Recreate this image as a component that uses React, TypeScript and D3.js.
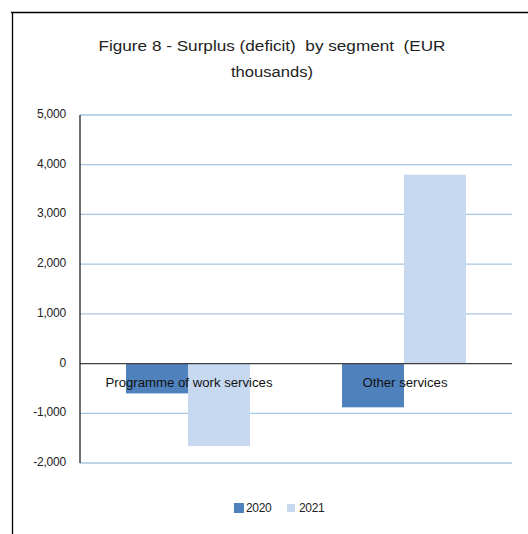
import React from "react";
import * as d3 from "d3";

const categories = ["Programme of work services", "Other services"];
const seriesNames = ["2020", "2021"];
const values2020 = [-600, -880];
const values2021 = [-1660, 3800];
const yTicks = [-2000, -1000, 0, 1000, 2000, 3000, 4000, 5000];
const colors = ["#4f81bd", "#c6d9f1"];
const titleLines = ["Figure 8 - Surplus (deficit)  by segment  (EUR", "thousands)"];

export default function App() {
  const W = 528, H = 534;
  const left = 80, right = 512, top = 115, bottom = 463;
  const y = d3.scaleLinear().domain([-2000, 5000]).range([bottom, top]);
  const x = d3.scaleBand<string>().domain(categories).range([left, right]).paddingInner(0.426).paddingOuter(0.213);
  const xs = d3.scaleBand<string>().domain(seriesNames).range([0, x.bandwidth()]);
  const series = [values2020, values2021];
  const fmt = (v: number) => d3.format(",")(v).replace("\u2212", "-");
  const font = "'Liberation Sans', Arial, sans-serif";
  const titleWidths = [347, 82];
  const catWidths = [167, 85];
  return (
    <svg width={W} height={H} style={{ position: "absolute", left: 0, top: 0 }} fontFamily={font}>
      <rect x={0} y={0} width={W} height={H} fill="#fff" />
      <line x1={11} x2={W} y1={12.5} y2={12.5} stroke="#000" strokeWidth={1.3} />
      <line x1={12.5} x2={12.5} y1={12} y2={H} stroke="#000" strokeWidth={1.3} />
      {titleLines.map((t, i) => (
        <text
          key={i}
          x={272}
          y={51 + i * 26}
          textAnchor="middle"
          fontSize={15.5}
          fill="#222"
          xmlSpace="preserve"
          style={{ whiteSpace: "pre" }}
          textLength={titleWidths[i]}
          lengthAdjust="spacingAndGlyphs"
        >
          {t}
        </text>
      ))}
      {yTicks.map((t) => (
        <g key={t}>
          {t !== 0 && (
            <line x1={left} x2={right} y1={y(t)} y2={y(t)} stroke="#a8c6e2" strokeWidth={1.3} />
          )}
          <text x={66} y={y(t) + 3} textAnchor="end" fontSize={12} fill="#222" letterSpacing={-0.2}>
            {fmt(t)}
          </text>
        </g>
      ))}
      {categories.map((c, i) =>
        series.map((vals, s) => {
          const v = vals[i];
          const x0 = (x(c) ?? 0) + (xs(seriesNames[s]) ?? 0);
          return (
            <rect
              key={c + s}
              x={x0}
              y={Math.min(y(v), y(0))}
              width={xs.bandwidth()}
              height={Math.abs(y(v) - y(0))}
              fill={colors[s]}
            />
          );
        })
      )}
      <line x1={left} x2={right} y1={y(0)} y2={y(0)} stroke="#404040" strokeWidth={1.3} />
      <line x1={left} x2={left} y1={top} y2={bottom} stroke="#222" strokeWidth={1.3} />
      {categories.map((c, i) => (
        <text
          key={c}
          x={(x(c) ?? 0) + x.bandwidth() / 2 + 1}
          y={y(0) + 23}
          textAnchor="middle"
          fontSize={12}
          fill="#111"
          textLength={catWidths[i]}
          lengthAdjust="spacingAndGlyphs"
        >
          {c}
        </text>
      ))}
      {seriesNames.map((s, i) => {
        const lx = 234 + i * 53;
        return (
          <g key={s}>
            <rect x={lx} y={503} width={i === 0 ? 10 : 8} height={i === 0 ? 10 : 8} fill={colors[i]} transform={i === 0 ? "" : "translate(0,1)"} />
            <text x={lx + 12} y={512} fontSize={12} fill="#222" letterSpacing={-0.3}>
              {s}
            </text>
          </g>
        );
      })}
    </svg>
  );
}
